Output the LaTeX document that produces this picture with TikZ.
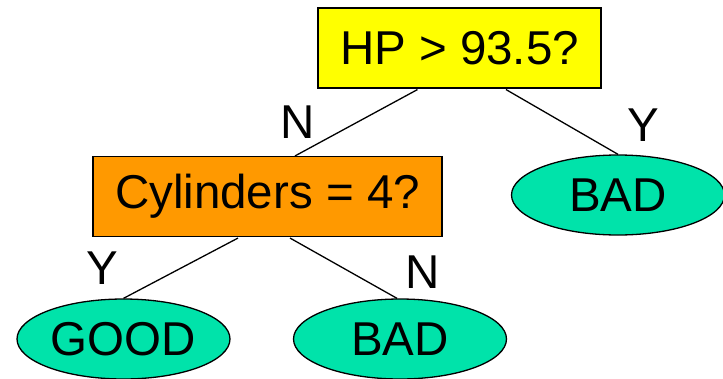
\documentclass[tikz,border=0pt]{standalone}
\usepackage{fontspec}
\setmainfont{Liberation Sans}
\usetikzlibrary{shapes.geometric,calc}
\definecolor{TestYellow}{HTML}{FFFF00}
\definecolor{TestOrange}{HTML}{FF9900}
\definecolor{LeafGreen}{HTML}{00E3AA}

\begin{document}
\begin{tikzpicture}[x=1pt,y=-1pt,line width=1.3pt,
  font=\fontsize{47.5}{56}\selectfont,
  test/.style={draw,line width=1.1pt,inner sep=0pt,minimum height=80pt},
  leaf/.style={ellipse,draw,fill=LeafGreen,inner sep=0pt,minimum width=213pt,minimum height=80pt},
  branch/.style={inner sep=0pt}]
\useasboundingbox (0,0) rectangle (723,378);
\node[test,fill=TestYellow,minimum width=283pt] (hp) at (459.5,48) {HP > 93.5?};
\node[test,fill=TestOrange,minimum width=349pt] (cyl) at (267.5,196.5) {Cylinders = 4?};
\node[leaf] (good) at (123.5,339) {GOOD};
\node[leaf] (badL) at (400,339) {BAD};
\node[leaf] (badR) at (618,195) {BAD};
% split lines
\draw ($(hp.south)+(-42,1)$) -- (cyl.north -| 295,0);
\draw ($(hp.south)+(46.5,1)$) -- (badR.north);
\draw ($(cyl.south)+(-29.5,1)$) -- (good.north);
\draw ($(cyl.south)+(22.5,1)$) -- ($(badL.north)+(-3,0)$);
\node[branch] (n1) at (298,122) {N};
\node[branch] (y1) at (643,125) {Y};
\node[branch] (y2) at (102,268) {Y};
\node[branch] (n2) at (423,272) {N};
\end{tikzpicture}
\end{document}
